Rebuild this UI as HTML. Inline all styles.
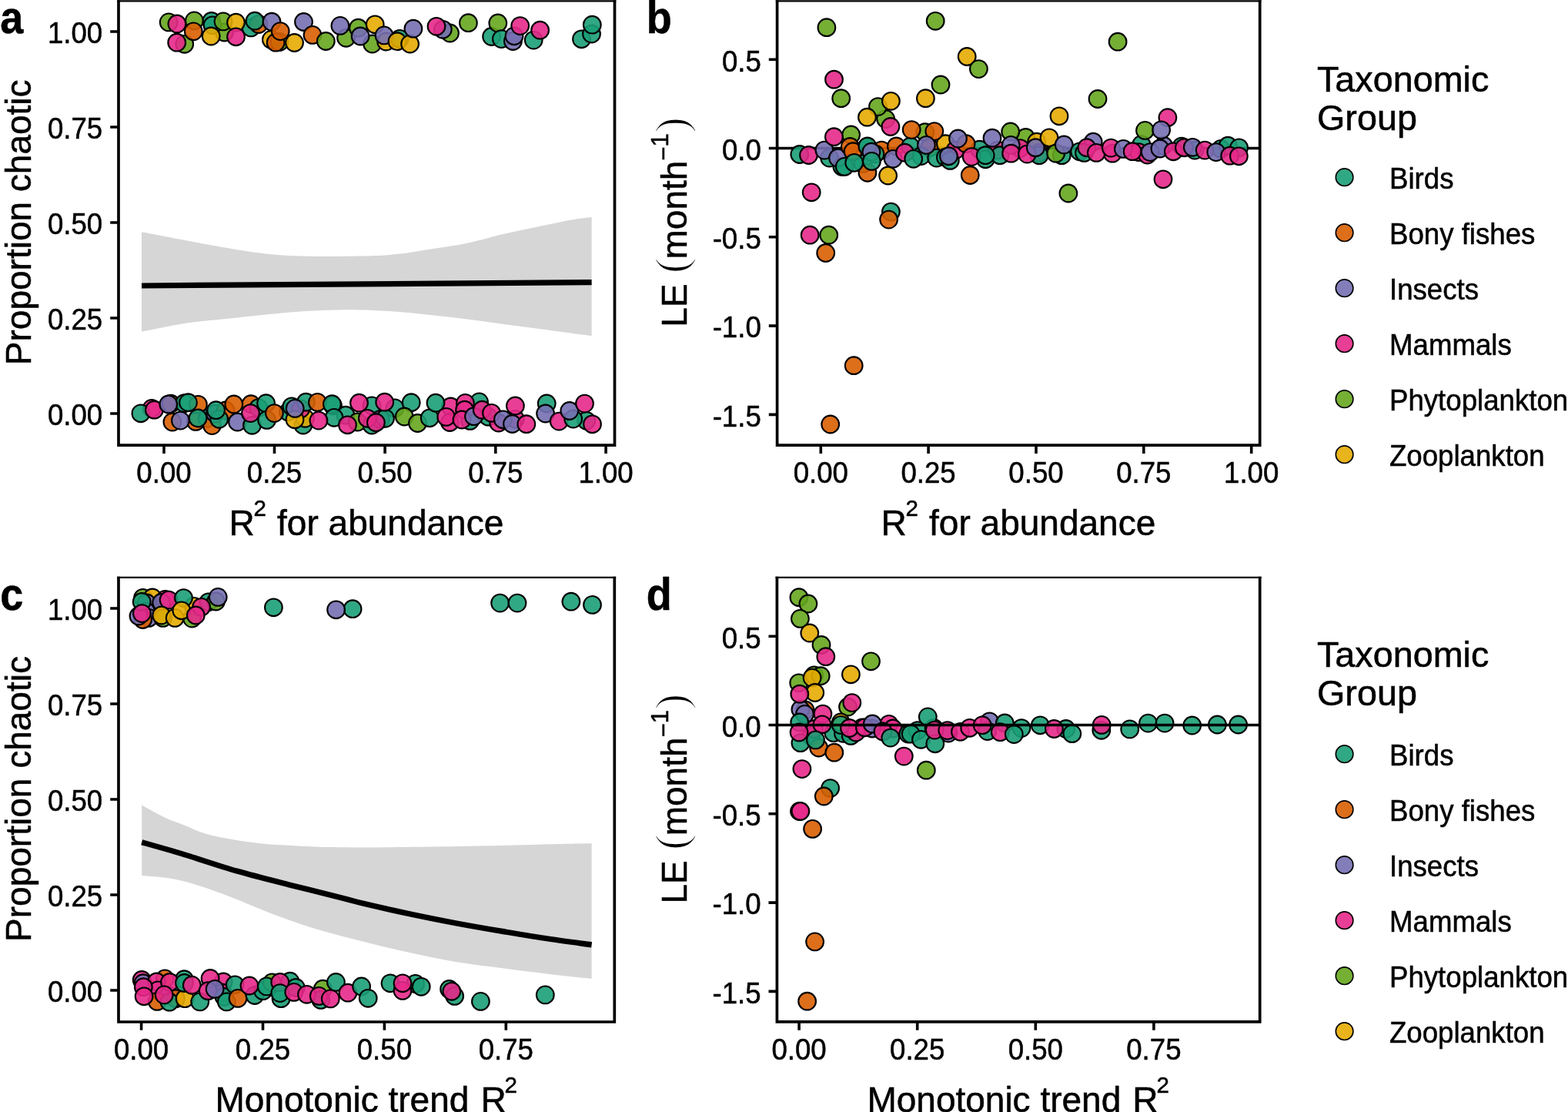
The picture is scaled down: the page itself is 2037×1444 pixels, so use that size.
<!DOCTYPE html>
<html><head><meta charset="utf-8"><style>
html,body{margin:0;padding:0;background:#fff;}
svg{display:block;}

</style></head><body>
<svg width="2037" height="1444" viewBox="0 0 2037 1444" font-family="'Liberation Sans', Arial, sans-serif">
<style>text{stroke:#000;stroke-width:0.55px;}</style>
<rect width="2037" height="1444" fill="#fff"/>
<path d="M184.0,301.2 C193.3,303.0 222.6,308.6 240.0,311.9 C257.4,315.2 271.2,318.1 288.7,321.0 C306.2,323.9 326.7,327.4 345.0,329.4 C363.3,331.3 377.5,332.2 398.3,332.7 C419.1,333.2 450.4,332.8 470.0,332.4 C489.6,332.0 500.5,331.6 515.7,330.1 C530.9,328.6 546.1,325.7 561.3,323.3 C576.5,320.9 591.8,318.9 607.0,315.7 C622.2,312.5 637.4,307.8 652.6,304.2 C667.8,300.6 683.1,297.6 698.3,294.4 C713.5,291.2 732.3,287.3 744.0,285.2 C755.7,283.1 764.5,282.5 768.6,282.0 L768.6,436.0 C764.5,435.5 755.7,434.4 744.0,432.9 C732.3,431.4 713.5,428.8 698.3,426.8 C683.1,424.8 667.8,422.7 652.6,420.7 C637.4,418.7 622.2,416.5 607.0,414.6 C591.8,412.7 576.5,411.0 561.3,409.3 C546.1,407.6 530.9,405.9 515.7,404.7 C500.5,403.5 483.2,402.8 470.0,402.4 C456.8,402.0 448.3,402.1 436.4,402.4 C424.4,402.6 412.3,403.0 398.3,403.9 C384.3,404.8 370.9,405.9 352.6,407.7 C334.3,409.5 307.5,412.6 288.7,414.6 C269.9,416.6 257.4,417.2 240.0,419.9 C222.6,422.6 193.3,428.8 184.0,430.6 Z" fill="#d6d6d6"/>
<path d="M184.0,371.0 L768.6,366.6" fill="none" stroke="#000" stroke-width="7.2"/>
<g stroke="#000" stroke-width="2.1">
<circle cx="219.2" cy="28.9" r="11.35" fill="#66A61E" fill-opacity="0.9"/>
<circle cx="239.7" cy="57.3" r="11.35" fill="#66A61E" fill-opacity="0.9"/>
<circle cx="274.7" cy="27.5" r="11.35" fill="#1B9E77" fill-opacity="0.9"/>
<circle cx="291.5" cy="42.0" r="11.35" fill="#66A61E" fill-opacity="0.9"/>
<circle cx="326.0" cy="35.9" r="11.35" fill="#1B9E77" fill-opacity="0.9"/>
<circle cx="336.0" cy="31.5" r="11.35" fill="#D95F02" fill-opacity="0.9"/>
<circle cx="352.4" cy="51.4" r="11.35" fill="#E6AB02" fill-opacity="0.9"/>
<circle cx="363.0" cy="54.5" r="11.35" fill="#66A61E" fill-opacity="0.9"/>
<circle cx="449.6" cy="49.3" r="11.35" fill="#66A61E" fill-opacity="0.9"/>
<circle cx="483.6" cy="57.0" r="11.35" fill="#66A61E" fill-opacity="0.9"/>
<circle cx="501.6" cy="54.0" r="11.35" fill="#E6AB02" fill-opacity="0.9"/>
<circle cx="519.2" cy="50.4" r="11.35" fill="#1B9E77" fill-opacity="0.9"/>
<circle cx="584.5" cy="43.0" r="11.35" fill="#66A61E" fill-opacity="0.9"/>
<circle cx="575.3" cy="38.3" r="11.35" fill="#7570B3" fill-opacity="0.9"/>
<circle cx="197.1" cy="530.4" r="11.35" fill="#E7298A" fill-opacity="0.9"/>
<circle cx="221.9" cy="524.2" r="11.35" fill="#D95F02" fill-opacity="0.9"/>
<circle cx="239.4" cy="523.7" r="11.35" fill="#1B9E77" fill-opacity="0.9"/>
<circle cx="257.4" cy="525.3" r="11.35" fill="#D95F02" fill-opacity="0.9"/>
<circle cx="223.9" cy="548.0" r="11.35" fill="#D95F02" fill-opacity="0.9"/>
<circle cx="254.3" cy="547.4" r="11.35" fill="#D95F02" fill-opacity="0.9"/>
<circle cx="269.3" cy="543.3" r="11.35" fill="#1B9E77" fill-opacity="0.9"/>
<circle cx="275.5" cy="552.6" r="11.35" fill="#D95F02" fill-opacity="0.9"/>
<circle cx="279.6" cy="537.1" r="11.35" fill="#7570B3" fill-opacity="0.9"/>
<circle cx="293.0" cy="533.0" r="11.35" fill="#D95F02" fill-opacity="0.9"/>
<circle cx="326.0" cy="524.7" r="11.35" fill="#D95F02" fill-opacity="0.9"/>
<circle cx="335.8" cy="529.6" r="11.35" fill="#1B9E77" fill-opacity="0.9"/>
<circle cx="374.4" cy="535.0" r="11.35" fill="#1B9E77" fill-opacity="0.9"/>
<circle cx="378.9" cy="527.8" r="11.35" fill="#1B9E77" fill-opacity="0.9"/>
<circle cx="393.8" cy="552.0" r="11.35" fill="#1B9E77" fill-opacity="0.9"/>
<circle cx="396.4" cy="543.3" r="11.35" fill="#E6AB02" fill-opacity="0.9"/>
<circle cx="390.7" cy="530.9" r="11.35" fill="#E7298A" fill-opacity="0.9"/>
<circle cx="397.4" cy="522.2" r="11.35" fill="#1B9E77" fill-opacity="0.9"/>
<circle cx="432.5" cy="526.8" r="11.35" fill="#1B9E77" fill-opacity="0.9"/>
<circle cx="449.0" cy="539.2" r="11.35" fill="#1B9E77" fill-opacity="0.9"/>
<circle cx="464.4" cy="548.0" r="11.35" fill="#66A61E" fill-opacity="0.9"/>
<circle cx="483.0" cy="526.8" r="11.35" fill="#1B9E77" fill-opacity="0.9"/>
<circle cx="483.0" cy="552.0" r="11.35" fill="#1B9E77" fill-opacity="0.9"/>
<circle cx="494.3" cy="544.3" r="11.35" fill="#7570B3" fill-opacity="0.9"/>
<circle cx="512.9" cy="529.9" r="11.35" fill="#1B9E77" fill-opacity="0.9"/>
<circle cx="585.4" cy="528.0" r="11.35" fill="#E7298A" fill-opacity="0.9"/>
<circle cx="584.3" cy="548.5" r="11.35" fill="#E7298A" fill-opacity="0.9"/>
<circle cx="622.5" cy="521.9" r="11.35" fill="#1B9E77" fill-opacity="0.9"/>
<circle cx="610.6" cy="546.4" r="11.35" fill="#1B9E77" fill-opacity="0.9"/>
<circle cx="634.3" cy="541.2" r="11.35" fill="#1B9E77" fill-opacity="0.9"/>
<circle cx="647.7" cy="549.0" r="11.35" fill="#E7298A" fill-opacity="0.9"/>
<circle cx="669.4" cy="544.3" r="11.35" fill="#E7298A" fill-opacity="0.9"/>
<circle cx="761.8" cy="546.3" r="11.35" fill="#1B9E77" fill-opacity="0.9"/>
<circle cx="229.9" cy="31.0" r="11.35" fill="#E7298A" fill-opacity="0.9"/>
<circle cx="229.7" cy="55.2" r="11.35" fill="#E7298A" fill-opacity="0.9"/>
<circle cx="252.4" cy="26.9" r="11.35" fill="#66A61E" fill-opacity="0.9"/>
<circle cx="251.3" cy="40.8" r="11.35" fill="#D95F02" fill-opacity="0.9"/>
<circle cx="276.0" cy="32.8" r="11.35" fill="#1B9E77" fill-opacity="0.9"/>
<circle cx="290.0" cy="27.9" r="11.35" fill="#66A61E" fill-opacity="0.9"/>
<circle cx="274.2" cy="47.0" r="11.35" fill="#E6AB02" fill-opacity="0.9"/>
<circle cx="306.5" cy="29.2" r="11.35" fill="#E6AB02" fill-opacity="0.9"/>
<circle cx="306.5" cy="47.8" r="11.35" fill="#E7298A" fill-opacity="0.9"/>
<circle cx="331.0" cy="27.2" r="11.35" fill="#1B9E77" fill-opacity="0.9"/>
<circle cx="353.0" cy="28.2" r="11.35" fill="#7570B3" fill-opacity="0.9"/>
<circle cx="358.2" cy="55.2" r="11.35" fill="#D95F02" fill-opacity="0.9"/>
<circle cx="364.2" cy="40.6" r="11.35" fill="#D95F02" fill-opacity="0.9"/>
<circle cx="382.5" cy="55.5" r="11.35" fill="#E6AB02" fill-opacity="0.9"/>
<circle cx="394.5" cy="28.5" r="11.35" fill="#7570B3" fill-opacity="0.9"/>
<circle cx="406.0" cy="45.4" r="11.35" fill="#D95F02" fill-opacity="0.9"/>
<circle cx="423.3" cy="53.5" r="11.35" fill="#66A61E" fill-opacity="0.9"/>
<circle cx="441.9" cy="33.4" r="11.35" fill="#7570B3" fill-opacity="0.9"/>
<circle cx="465.4" cy="36.2" r="11.35" fill="#66A61E" fill-opacity="0.9"/>
<circle cx="468.1" cy="47.0" r="11.35" fill="#7570B3" fill-opacity="0.9"/>
<circle cx="487.2" cy="31.8" r="11.35" fill="#E6AB02" fill-opacity="0.9"/>
<circle cx="499.0" cy="45.9" r="11.35" fill="#7570B3" fill-opacity="0.9"/>
<circle cx="516.0" cy="53.7" r="11.35" fill="#E6AB02" fill-opacity="0.9"/>
<circle cx="532.6" cy="57.0" r="11.35" fill="#E6AB02" fill-opacity="0.9"/>
<circle cx="536.9" cy="37.2" r="11.35" fill="#7570B3" fill-opacity="0.9"/>
<circle cx="567.0" cy="34.3" r="11.35" fill="#E7298A" fill-opacity="0.9"/>
<circle cx="608.4" cy="29.7" r="11.35" fill="#66A61E" fill-opacity="0.9"/>
<circle cx="638.6" cy="47.5" r="11.35" fill="#1B9E77" fill-opacity="0.9"/>
<circle cx="646.8" cy="30.0" r="11.35" fill="#66A61E" fill-opacity="0.9"/>
<circle cx="651.4" cy="50.6" r="11.35" fill="#1B9E77" fill-opacity="0.9"/>
<circle cx="666.4" cy="53.5" r="11.35" fill="#7570B3" fill-opacity="0.9"/>
<circle cx="668.0" cy="46.8" r="11.35" fill="#7570B3" fill-opacity="0.9"/>
<circle cx="675.7" cy="33.6" r="11.35" fill="#E7298A" fill-opacity="0.9"/>
<circle cx="693.2" cy="52.1" r="11.35" fill="#1B9E77" fill-opacity="0.9"/>
<circle cx="701.6" cy="39.2" r="11.35" fill="#E7298A" fill-opacity="0.9"/>
<circle cx="755.5" cy="50.8" r="11.35" fill="#1B9E77" fill-opacity="0.9"/>
<circle cx="768.5" cy="44.0" r="11.35" fill="#1B9E77" fill-opacity="0.9"/>
<circle cx="769.3" cy="32.2" r="11.35" fill="#1B9E77" fill-opacity="0.9"/>
<circle cx="182.9" cy="536.8" r="11.35" fill="#1B9E77" fill-opacity="0.9"/>
<circle cx="200.4" cy="532.2" r="11.35" fill="#E7298A" fill-opacity="0.9"/>
<circle cx="218.8" cy="525.0" r="11.35" fill="#7570B3" fill-opacity="0.9"/>
<circle cx="244.5" cy="522.7" r="11.35" fill="#1B9E77" fill-opacity="0.9"/>
<circle cx="234.4" cy="546.1" r="11.35" fill="#7570B3" fill-opacity="0.9"/>
<circle cx="257.1" cy="543.0" r="11.35" fill="#1B9E77" fill-opacity="0.9"/>
<circle cx="284.7" cy="544.3" r="11.35" fill="#1B9E77" fill-opacity="0.9"/>
<circle cx="280.6" cy="532.7" r="11.35" fill="#1B9E77" fill-opacity="0.9"/>
<circle cx="303.8" cy="525.0" r="11.35" fill="#D95F02" fill-opacity="0.9"/>
<circle cx="308.5" cy="548.0" r="11.35" fill="#7570B3" fill-opacity="0.9"/>
<circle cx="327.5" cy="552.3" r="11.35" fill="#1B9E77" fill-opacity="0.9"/>
<circle cx="325.5" cy="536.6" r="11.35" fill="#E7298A" fill-opacity="0.9"/>
<circle cx="345.6" cy="523.7" r="11.35" fill="#1B9E77" fill-opacity="0.9"/>
<circle cx="346.6" cy="545.4" r="11.35" fill="#1B9E77" fill-opacity="0.9"/>
<circle cx="356.4" cy="536.6" r="11.35" fill="#D95F02" fill-opacity="0.9"/>
<circle cx="383.0" cy="544.7" r="11.35" fill="#E6AB02" fill-opacity="0.9"/>
<circle cx="383.2" cy="530.4" r="11.35" fill="#7570B3" fill-opacity="0.9"/>
<circle cx="412.4" cy="522.4" r="11.35" fill="#D95F02" fill-opacity="0.9"/>
<circle cx="431.4" cy="524.7" r="11.35" fill="#1B9E77" fill-opacity="0.9"/>
<circle cx="434.0" cy="542.3" r="11.35" fill="#1B9E77" fill-opacity="0.9"/>
<circle cx="413.9" cy="546.1" r="11.35" fill="#E7298A" fill-opacity="0.9"/>
<circle cx="451.5" cy="551.8" r="11.35" fill="#E7298A" fill-opacity="0.9"/>
<circle cx="466.5" cy="523.2" r="11.35" fill="#E7298A" fill-opacity="0.9"/>
<circle cx="477.3" cy="543.3" r="11.35" fill="#E7298A" fill-opacity="0.9"/>
<circle cx="500.5" cy="543.3" r="11.35" fill="#1B9E77" fill-opacity="0.9"/>
<circle cx="488.4" cy="548.7" r="11.35" fill="#E7298A" fill-opacity="0.9"/>
<circle cx="499.7" cy="522.2" r="11.35" fill="#E7298A" fill-opacity="0.9"/>
<circle cx="534.2" cy="522.7" r="11.35" fill="#1B9E77" fill-opacity="0.9"/>
<circle cx="525.3" cy="541.0" r="11.35" fill="#66A61E" fill-opacity="0.9"/>
<circle cx="542.5" cy="549.5" r="11.35" fill="#66A61E" fill-opacity="0.9"/>
<circle cx="558.2" cy="542.8" r="11.35" fill="#1B9E77" fill-opacity="0.9"/>
<circle cx="566.0" cy="523.2" r="11.35" fill="#1B9E77" fill-opacity="0.9"/>
<circle cx="579.7" cy="541.4" r="11.35" fill="#E7298A" fill-opacity="0.9"/>
<circle cx="604.4" cy="523.4" r="11.35" fill="#E7298A" fill-opacity="0.9"/>
<circle cx="603.6" cy="532.2" r="11.35" fill="#E7298A" fill-opacity="0.9"/>
<circle cx="600.0" cy="545.0" r="11.35" fill="#E7298A" fill-opacity="0.9"/>
<circle cx="615.5" cy="540.7" r="11.35" fill="#7570B3" fill-opacity="0.9"/>
<circle cx="626.3" cy="532.2" r="11.35" fill="#E7298A" fill-opacity="0.9"/>
<circle cx="638.5" cy="536.3" r="11.35" fill="#E7298A" fill-opacity="0.9"/>
<circle cx="653.4" cy="544.8" r="11.35" fill="#7570B3" fill-opacity="0.9"/>
<circle cx="669.4" cy="527.0" r="11.35" fill="#E7298A" fill-opacity="0.9"/>
<circle cx="665.5" cy="550.5" r="11.35" fill="#7570B3" fill-opacity="0.9"/>
<circle cx="683.8" cy="550.7" r="11.35" fill="#E7298A" fill-opacity="0.9"/>
<circle cx="710.2" cy="524.0" r="11.35" fill="#1B9E77" fill-opacity="0.9"/>
<circle cx="708.6" cy="537.0" r="11.35" fill="#7570B3" fill-opacity="0.9"/>
<circle cx="726.2" cy="547.1" r="11.35" fill="#E7298A" fill-opacity="0.9"/>
<circle cx="744.7" cy="544.0" r="11.35" fill="#1B9E77" fill-opacity="0.9"/>
<circle cx="739.8" cy="533.5" r="11.35" fill="#7570B3" fill-opacity="0.9"/>
<circle cx="759.5" cy="524.1" r="11.35" fill="#E7298A" fill-opacity="0.9"/>
<circle cx="769.5" cy="550.8" r="11.35" fill="#E7298A" fill-opacity="0.9"/>
</g>
<path d="M152.15,1.3 H800.35" stroke="#000" stroke-width="2.2" fill="none"/>
<path d="M154.0,0.20 V578.2 M152.15,578.2 H800.35 M798.5,578.2 V0.20" stroke="#000" stroke-width="3.7" fill="none" stroke-linecap="butt"/>
<path d="M213.0,578.2 V589.1 M356.5,578.2 V589.1 M500.1,578.2 V589.1 M643.8,578.2 V589.1 M787.1,578.2 V589.1 M154.0,537 H143.2 M154.0,413 H143.2 M154.0,289 H143.2 M154.0,165 H143.2 M154.0,41 H143.2" stroke="#000" stroke-width="3.6" fill="none"/>
<text transform="translate(213.0,627.2) scale(0.93,1)" font-size="39.4" text-anchor="middle">0.00</text>
<text transform="translate(356.5,627.2) scale(0.93,1)" font-size="39.4" text-anchor="middle">0.25</text>
<text transform="translate(500.1,627.2) scale(0.93,1)" font-size="39.4" text-anchor="middle">0.50</text>
<text transform="translate(643.8,627.2) scale(0.93,1)" font-size="39.4" text-anchor="middle">0.75</text>
<text transform="translate(787.1,627.2) scale(0.93,1)" font-size="39.4" text-anchor="middle">1.00</text>
<text transform="translate(133.2,552.2) scale(0.93,1)" font-size="39.4" text-anchor="end">0.00</text>
<text transform="translate(133.2,428.2) scale(0.93,1)" font-size="39.4" text-anchor="end">0.25</text>
<text transform="translate(133.2,304.2) scale(0.93,1)" font-size="39.4" text-anchor="end">0.50</text>
<text transform="translate(133.2,180.2) scale(0.93,1)" font-size="39.4" text-anchor="end">0.75</text>
<text transform="translate(133.2,56.2) scale(0.93,1)" font-size="39.4" text-anchor="end">1.00</text>
<text font-size="46" y="695.0"><tspan x="297.6">R</tspan><tspan x="329.5" y="669.8" font-size="29.5">2</tspan><tspan x="360.1" y="695.0">for abundance</tspan></text>
<text transform="translate(39.8,288.8) rotate(-90)" font-size="46" text-anchor="middle">Proportion chaotic</text>
<text transform="translate(0.3,43.4) scale(0.9,1)" font-size="60" font-weight="bold">a</text>
<line x1="1009.6" y1="192.5" x2="1636.7" y2="192.5" stroke="#000" stroke-width="3.7"/>
<g stroke="#000" stroke-width="2.1">
<circle cx="1150.6" cy="154.6" r="11.35" fill="#66A61E" fill-opacity="0.9"/>
<circle cx="1077.6" cy="205.1" r="11.35" fill="#1B9E77" fill-opacity="0.9"/>
<circle cx="1093.9" cy="216.4" r="11.35" fill="#1B9E77" fill-opacity="0.9"/>
<circle cx="1126.0" cy="190.9" r="11.35" fill="#1B9E77" fill-opacity="0.9"/>
<circle cx="1121.0" cy="212.6" r="11.35" fill="#1B9E77" fill-opacity="0.9"/>
<circle cx="1145.2" cy="195.1" r="11.35" fill="#D95F02" fill-opacity="0.9"/>
<circle cx="1136.9" cy="200.0" r="11.35" fill="#1B9E77" fill-opacity="0.9"/>
<circle cx="1164.4" cy="190.0" r="11.35" fill="#D95F02" fill-opacity="0.9"/>
<circle cx="1182.8" cy="190.0" r="11.35" fill="#1B9E77" fill-opacity="0.9"/>
<circle cx="1201.7" cy="171.7" r="11.35" fill="#66A61E" fill-opacity="0.9"/>
<circle cx="1207.6" cy="191.7" r="11.35" fill="#D95F02" fill-opacity="0.9"/>
<circle cx="1196.7" cy="202.6" r="11.35" fill="#1B9E77" fill-opacity="0.9"/>
<circle cx="1216.7" cy="205.1" r="11.35" fill="#1B9E77" fill-opacity="0.9"/>
<circle cx="1228.4" cy="186.7" r="11.35" fill="#E6AB02" fill-opacity="0.9"/>
<circle cx="1241.0" cy="195.1" r="11.35" fill="#E7298A" fill-opacity="0.9"/>
<circle cx="1228.4" cy="204.2" r="11.35" fill="#1B9E77" fill-opacity="0.9"/>
<circle cx="1272.7" cy="194.2" r="11.35" fill="#1B9E77" fill-opacity="0.9"/>
<circle cx="1280.2" cy="206.8" r="11.35" fill="#1B9E77" fill-opacity="0.9"/>
<circle cx="1296.0" cy="195.1" r="11.35" fill="#E7298A" fill-opacity="0.9"/>
<circle cx="1299.0" cy="201.7" r="11.35" fill="#1B9E77" fill-opacity="0.9"/>
<circle cx="1332.5" cy="178.5" r="11.35" fill="#66A61E" fill-opacity="0.9"/>
<circle cx="1325.3" cy="192.6" r="11.35" fill="#E7298A" fill-opacity="0.9"/>
<circle cx="1346.7" cy="184.2" r="11.35" fill="#E6AB02" fill-opacity="0.9"/>
<circle cx="1350.0" cy="198.4" r="11.35" fill="#E7298A" fill-opacity="0.9"/>
<circle cx="1350.0" cy="201.7" r="11.35" fill="#1B9E77" fill-opacity="0.9"/>
<circle cx="1379.3" cy="201.7" r="11.35" fill="#1B9E77" fill-opacity="0.9"/>
<circle cx="1420.2" cy="184.2" r="11.35" fill="#7570B3" fill-opacity="0.9"/>
<circle cx="1445.2" cy="199.2" r="11.35" fill="#E7298A" fill-opacity="0.9"/>
<circle cx="1482.8" cy="187.6" r="11.35" fill="#1B9E77" fill-opacity="0.9"/>
<circle cx="1479.2" cy="197.6" r="11.35" fill="#E7298A" fill-opacity="0.9"/>
<circle cx="1490.5" cy="201.0" r="11.35" fill="#E7298A" fill-opacity="0.9"/>
<circle cx="1511.7" cy="189.2" r="11.35" fill="#7570B3" fill-opacity="0.9"/>
<circle cx="1535.1" cy="190.1" r="11.35" fill="#1B9E77" fill-opacity="0.9"/>
<circle cx="1552.2" cy="195.1" r="11.35" fill="#1B9E77" fill-opacity="0.9"/>
<circle cx="1586.0" cy="193.4" r="11.35" fill="#1B9E77" fill-opacity="0.9"/>
<circle cx="1595.2" cy="189.2" r="11.35" fill="#1B9E77" fill-opacity="0.9"/>
<circle cx="1073.9" cy="35.7" r="11.35" fill="#66A61E" fill-opacity="0.9"/>
<circle cx="1215.2" cy="27.3" r="11.35" fill="#66A61E" fill-opacity="0.9"/>
<circle cx="1256.2" cy="73.5" r="11.35" fill="#E6AB02" fill-opacity="0.9"/>
<circle cx="1271.4" cy="89.6" r="11.35" fill="#66A61E" fill-opacity="0.9"/>
<circle cx="1083.5" cy="103.2" r="11.35" fill="#E7298A" fill-opacity="0.9"/>
<circle cx="1222.0" cy="110.0" r="11.35" fill="#66A61E" fill-opacity="0.9"/>
<circle cx="1092.7" cy="127.7" r="11.35" fill="#66A61E" fill-opacity="0.9"/>
<circle cx="1202.4" cy="127.7" r="11.35" fill="#E6AB02" fill-opacity="0.9"/>
<circle cx="1140.5" cy="138.6" r="11.35" fill="#66A61E" fill-opacity="0.9"/>
<circle cx="1157.4" cy="131.3" r="11.35" fill="#E6AB02" fill-opacity="0.9"/>
<circle cx="1126.5" cy="152.2" r="11.35" fill="#E6AB02" fill-opacity="0.9"/>
<circle cx="1156.9" cy="164.5" r="11.35" fill="#E7298A" fill-opacity="0.9"/>
<circle cx="1054.2" cy="249.8" r="11.35" fill="#E7298A" fill-opacity="0.9"/>
<circle cx="1157.4" cy="275.1" r="11.35" fill="#1B9E77" fill-opacity="0.9"/>
<circle cx="1154.6" cy="285.1" r="11.35" fill="#D95F02" fill-opacity="0.9"/>
<circle cx="1052.2" cy="305.2" r="11.35" fill="#E7298A" fill-opacity="0.9"/>
<circle cx="1076.7" cy="305.2" r="11.35" fill="#66A61E" fill-opacity="0.9"/>
<circle cx="1072.7" cy="328.5" r="11.35" fill="#D95F02" fill-opacity="0.9"/>
<circle cx="1109.2" cy="474.7" r="11.35" fill="#D95F02" fill-opacity="0.9"/>
<circle cx="1078.7" cy="551.0" r="11.35" fill="#D95F02" fill-opacity="0.9"/>
<circle cx="1452.1" cy="54.2" r="11.35" fill="#66A61E" fill-opacity="0.9"/>
<circle cx="1426.0" cy="128.5" r="11.35" fill="#66A61E" fill-opacity="0.9"/>
<circle cx="1376.0" cy="150.8" r="11.35" fill="#E6AB02" fill-opacity="0.9"/>
<circle cx="1387.9" cy="251.0" r="11.35" fill="#66A61E" fill-opacity="0.9"/>
<circle cx="1516.9" cy="152.7" r="11.35" fill="#E7298A" fill-opacity="0.9"/>
<circle cx="1511.0" cy="232.8" r="11.35" fill="#E7298A" fill-opacity="0.9"/>
<circle cx="1126.9" cy="224.3" r="11.35" fill="#D95F02" fill-opacity="0.9"/>
<circle cx="1038.8" cy="200.5" r="11.35" fill="#1B9E77" fill-opacity="0.9"/>
<circle cx="1050.5" cy="201.5" r="11.35" fill="#E7298A" fill-opacity="0.9"/>
<circle cx="1070.9" cy="195.1" r="11.35" fill="#7570B3" fill-opacity="0.9"/>
<circle cx="1105.6" cy="175.0" r="11.35" fill="#66A61E" fill-opacity="0.9"/>
<circle cx="1083.4" cy="177.7" r="11.35" fill="#E7298A" fill-opacity="0.9"/>
<circle cx="1088.5" cy="205.1" r="11.35" fill="#7570B3" fill-opacity="0.9"/>
<circle cx="1097.2" cy="216.4" r="11.35" fill="#1B9E77" fill-opacity="0.9"/>
<circle cx="1104.3" cy="190.5" r="11.35" fill="#D95F02" fill-opacity="0.9"/>
<circle cx="1108.1" cy="196.7" r="11.35" fill="#D95F02" fill-opacity="0.9"/>
<circle cx="1109.7" cy="211.3" r="11.35" fill="#1B9E77" fill-opacity="0.9"/>
<circle cx="1126.9" cy="190.0" r="11.35" fill="#1B9E77" fill-opacity="0.9"/>
<circle cx="1131.9" cy="197.2" r="11.35" fill="#7570B3" fill-opacity="0.9"/>
<circle cx="1132.4" cy="209.4" r="11.35" fill="#1B9E77" fill-opacity="0.9"/>
<circle cx="1153.6" cy="228.0" r="11.35" fill="#E6AB02" fill-opacity="0.9"/>
<circle cx="1160.2" cy="206.3" r="11.35" fill="#7570B3" fill-opacity="0.9"/>
<circle cx="1184.2" cy="168.6" r="11.35" fill="#D95F02" fill-opacity="0.9"/>
<circle cx="1175.5" cy="198.2" r="11.35" fill="#E7298A" fill-opacity="0.9"/>
<circle cx="1213.8" cy="170.6" r="11.35" fill="#D95F02" fill-opacity="0.9"/>
<circle cx="1203.4" cy="188.4" r="11.35" fill="#7570B3" fill-opacity="0.9"/>
<circle cx="1186.7" cy="206.3" r="11.35" fill="#1B9E77" fill-opacity="0.9"/>
<circle cx="1255.1" cy="186.7" r="11.35" fill="#D95F02" fill-opacity="0.9"/>
<circle cx="1244.5" cy="180.0" r="11.35" fill="#7570B3" fill-opacity="0.9"/>
<circle cx="1234.3" cy="208.4" r="11.35" fill="#1B9E77" fill-opacity="0.9"/>
<circle cx="1232.4" cy="202.7" r="11.35" fill="#7570B3" fill-opacity="0.9"/>
<circle cx="1262.2" cy="203.6" r="11.35" fill="#E7298A" fill-opacity="0.9"/>
<circle cx="1260.3" cy="227.5" r="11.35" fill="#D95F02" fill-opacity="0.9"/>
<circle cx="1280.2" cy="201.7" r="11.35" fill="#1B9E77" fill-opacity="0.9"/>
<circle cx="1289.0" cy="179.2" r="11.35" fill="#7570B3" fill-opacity="0.9"/>
<circle cx="1312.7" cy="171.0" r="11.35" fill="#66A61E" fill-opacity="0.9"/>
<circle cx="1313.2" cy="188.4" r="11.35" fill="#7570B3" fill-opacity="0.9"/>
<circle cx="1313.6" cy="199.2" r="11.35" fill="#E7298A" fill-opacity="0.9"/>
<circle cx="1334.4" cy="200.1" r="11.35" fill="#E7298A" fill-opacity="0.9"/>
<circle cx="1345.3" cy="191.7" r="11.35" fill="#7570B3" fill-opacity="0.9"/>
<circle cx="1363.0" cy="178.8" r="11.35" fill="#E6AB02" fill-opacity="0.9"/>
<circle cx="1371.7" cy="199.2" r="11.35" fill="#66A61E" fill-opacity="0.9"/>
<circle cx="1382.2" cy="188.0" r="11.35" fill="#7570B3" fill-opacity="0.9"/>
<circle cx="1402.6" cy="196.8" r="11.35" fill="#1B9E77" fill-opacity="0.9"/>
<circle cx="1408.5" cy="198.4" r="11.35" fill="#1B9E77" fill-opacity="0.9"/>
<circle cx="1411.8" cy="191.7" r="11.35" fill="#E7298A" fill-opacity="0.9"/>
<circle cx="1424.3" cy="198.4" r="11.35" fill="#E7298A" fill-opacity="0.9"/>
<circle cx="1443.3" cy="192.1" r="11.35" fill="#E7298A" fill-opacity="0.9"/>
<circle cx="1459.4" cy="193.4" r="11.35" fill="#7570B3" fill-opacity="0.9"/>
<circle cx="1471.1" cy="196.7" r="11.35" fill="#E7298A" fill-opacity="0.9"/>
<circle cx="1487.5" cy="169.4" r="11.35" fill="#66A61E" fill-opacity="0.9"/>
<circle cx="1508.6" cy="168.8" r="11.35" fill="#7570B3" fill-opacity="0.9"/>
<circle cx="1494.2" cy="197.6" r="11.35" fill="#7570B3" fill-opacity="0.9"/>
<circle cx="1506.9" cy="193.0" r="11.35" fill="#7570B3" fill-opacity="0.9"/>
<circle cx="1524.3" cy="196.8" r="11.35" fill="#E7298A" fill-opacity="0.9"/>
<circle cx="1538.4" cy="191.8" r="11.35" fill="#E7298A" fill-opacity="0.9"/>
<circle cx="1549.3" cy="191.3" r="11.35" fill="#7570B3" fill-opacity="0.9"/>
<circle cx="1565.2" cy="195.1" r="11.35" fill="#E7298A" fill-opacity="0.9"/>
<circle cx="1579.8" cy="197.6" r="11.35" fill="#7570B3" fill-opacity="0.9"/>
<circle cx="1609.6" cy="191.8" r="11.35" fill="#1B9E77" fill-opacity="0.9"/>
<circle cx="1597.7" cy="202.2" r="11.35" fill="#E7298A" fill-opacity="0.9"/>
<circle cx="1609.4" cy="202.8" r="11.35" fill="#E7298A" fill-opacity="0.9"/>
</g>
<path d="M1007.75,1.3 H1638.55" stroke="#000" stroke-width="2.2" fill="none"/>
<path d="M1009.6,0.20 V578.1 M1007.75,578.1 H1638.55 M1636.7,578.1 V0.20" stroke="#000" stroke-width="3.7" fill="none" stroke-linecap="butt"/>
<path d="M1066.3,578.1 V589.0 M1206.1,578.1 V589.0 M1346.0,578.1 V589.0 M1485.8,578.1 V589.0 M1625.7,578.1 V589.0 M1009.6,77.3 H998.8 M1009.6,192.5 H998.8 M1009.6,307.8 H998.8 M1009.6,423.1 H998.8 M1009.6,538.4 H998.8" stroke="#000" stroke-width="3.6" fill="none"/>
<text transform="translate(1066.3,627.1) scale(0.93,1)" font-size="39.4" text-anchor="middle">0.00</text>
<text transform="translate(1206.1,627.1) scale(0.93,1)" font-size="39.4" text-anchor="middle">0.25</text>
<text transform="translate(1346.0,627.1) scale(0.93,1)" font-size="39.4" text-anchor="middle">0.50</text>
<text transform="translate(1485.8,627.1) scale(0.93,1)" font-size="39.4" text-anchor="middle">0.75</text>
<text transform="translate(1625.7,627.1) scale(0.93,1)" font-size="39.4" text-anchor="middle">1.00</text>
<text transform="translate(988.8,92.5) scale(0.93,1)" font-size="39.4" text-anchor="end">0.5</text>
<text transform="translate(988.8,207.7) scale(0.93,1)" font-size="39.4" text-anchor="end">0.0</text>
<text transform="translate(988.8,323.0) scale(0.93,1)" font-size="39.4" text-anchor="end">-0.5</text>
<text transform="translate(988.8,438.3) scale(0.93,1)" font-size="39.4" text-anchor="end">-1.0</text>
<text transform="translate(988.8,553.6) scale(0.93,1)" font-size="39.4" text-anchor="end">-1.5</text>
<text font-size="46" y="694.9"><tspan x="1144.6">R</tspan><tspan x="1176.5" y="669.7" font-size="29.5">2</tspan><tspan x="1207.1" y="694.9">for abundance</tspan></text>
<g transform="translate(892.3,0.2) rotate(-90)">
<text x="-424.5" y="0" font-size="46">LE</text>
<text transform="translate(-355.0,0) scale(1.05,1)" font-size="60" y="0" font-family="Liberation Serif, serif" style="stroke:#fff;stroke-width:1.6px">(</text>
<text x="-336.3" y="0" font-size="46">month</text>
<text x="-208.5" y="-20.5" font-size="31">&#8722;</text>
<text x="-190.3" y="-24" font-size="31">1</text>
<text transform="translate(-172.5,0) scale(1.05,1)" font-size="60" y="0" font-family="Liberation Serif, serif" style="stroke:#fff;stroke-width:1.6px">)</text>
</g>
<text transform="translate(839.8,43.4) scale(0.9,1)" font-size="60" font-weight="bold">b</text>
<path d="M184.2,1045.6 C189.0,1048.2 204.1,1056.9 213.3,1061.2 C222.5,1065.5 230.5,1068.0 239.2,1071.5 C247.8,1075.0 255.1,1078.9 265.2,1081.9 C275.3,1084.9 286.8,1087.4 299.8,1089.7 C312.8,1092.0 328.7,1094.3 343.1,1095.8 C357.5,1097.2 372.0,1097.7 386.4,1098.4 C400.8,1099.1 415.8,1099.8 429.7,1100.1 C443.6,1100.4 450.6,1100.5 470.0,1100.5 C489.4,1100.5 520.7,1100.1 546.1,1099.8 C571.5,1099.5 596.8,1099.1 622.2,1098.6 C647.6,1098.1 673.9,1097.3 698.3,1096.7 C722.7,1096.1 756.9,1095.5 768.6,1095.2 L768.6,1271.0 C759.4,1270.0 732.8,1267.2 713.5,1264.9 C694.2,1262.6 672.9,1260.0 652.6,1257.3 C632.3,1254.6 612.1,1252.4 591.8,1249.0 C571.5,1245.6 551.2,1241.2 530.9,1236.8 C510.6,1232.3 486.9,1226.5 470.0,1222.3 C453.1,1218.1 442.2,1215.3 429.7,1211.8 C417.2,1208.3 406.6,1205.2 395.0,1201.4 C383.4,1197.7 371.9,1193.6 360.4,1189.3 C348.9,1185.0 337.3,1180.0 325.8,1175.4 C314.3,1170.8 302.7,1165.9 291.2,1161.6 C279.7,1157.3 268.2,1152.9 256.6,1149.4 C245.1,1145.9 234.0,1142.9 221.9,1140.8 C209.8,1138.7 190.5,1137.6 184.2,1137.0 Z" fill="#d6d6d6"/>
<path d="M184.2,1093.7 C193.4,1096.3 218.5,1103.3 239.2,1109.6 C259.9,1115.9 285.4,1124.7 308.5,1131.3 C331.6,1137.9 354.6,1143.5 377.7,1149.4 C400.8,1155.3 431.6,1162.8 447.0,1166.7 C462.4,1170.6 456.0,1169.5 470.0,1172.8 C484.0,1176.1 510.6,1182.2 530.9,1186.5 C551.2,1190.8 571.5,1194.9 591.8,1198.7 C612.1,1202.5 632.3,1206.0 652.6,1209.4 C672.9,1212.8 694.2,1216.4 713.5,1219.3 C732.8,1222.2 759.4,1225.6 768.6,1226.9" fill="none" stroke="#000" stroke-width="7.2"/>
<g stroke="#000" stroke-width="2.1">
<circle cx="185.6" cy="776.3" r="11.35" fill="#66A61E" fill-opacity="0.9"/>
<circle cx="198.0" cy="776.0" r="11.35" fill="#E6AB02" fill-opacity="0.9"/>
<circle cx="190.5" cy="783.0" r="11.35" fill="#7570B3" fill-opacity="0.9"/>
<circle cx="189.7" cy="794.0" r="11.35" fill="#7570B3" fill-opacity="0.9"/>
<circle cx="193.2" cy="802.4" r="11.35" fill="#7570B3" fill-opacity="0.9"/>
<circle cx="185.6" cy="804.5" r="11.35" fill="#D95F02" fill-opacity="0.9"/>
<circle cx="180.0" cy="800.0" r="11.35" fill="#7570B3" fill-opacity="0.9"/>
<circle cx="214.5" cy="778.4" r="11.35" fill="#E7298A" fill-opacity="0.9"/>
<circle cx="209.7" cy="782.5" r="11.35" fill="#7570B3" fill-opacity="0.9"/>
<circle cx="211.7" cy="802.4" r="11.35" fill="#66A61E" fill-opacity="0.9"/>
<circle cx="251.6" cy="787.3" r="11.35" fill="#E6AB02" fill-opacity="0.9"/>
<circle cx="249.5" cy="803.1" r="11.35" fill="#66A61E" fill-opacity="0.9"/>
<circle cx="270.8" cy="781.8" r="11.35" fill="#1B9E77" fill-opacity="0.9"/>
<circle cx="280.5" cy="781.0" r="11.35" fill="#66A61E" fill-opacity="0.9"/>
<circle cx="184.2" cy="1272.5" r="11.35" fill="#E7298A" fill-opacity="0.9"/>
<circle cx="185.9" cy="1276.7" r="11.35" fill="#7570B3" fill-opacity="0.9"/>
<circle cx="214.2" cy="1270.9" r="11.35" fill="#D95F02" fill-opacity="0.9"/>
<circle cx="203.4" cy="1275.0" r="11.35" fill="#E7298A" fill-opacity="0.9"/>
<circle cx="205.1" cy="1285.9" r="11.35" fill="#E7298A" fill-opacity="0.9"/>
<circle cx="219.3" cy="1292.6" r="11.35" fill="#7570B3" fill-opacity="0.9"/>
<circle cx="228.4" cy="1296.7" r="11.35" fill="#D95F02" fill-opacity="0.9"/>
<circle cx="204.2" cy="1300.4" r="11.35" fill="#D95F02" fill-opacity="0.9"/>
<circle cx="220.1" cy="1301.2" r="11.35" fill="#1B9E77" fill-opacity="0.9"/>
<circle cx="239.3" cy="1271.7" r="11.35" fill="#1B9E77" fill-opacity="0.9"/>
<circle cx="240.1" cy="1296.7" r="11.35" fill="#E6AB02" fill-opacity="0.9"/>
<circle cx="290.2" cy="1275.0" r="11.35" fill="#E7298A" fill-opacity="0.9"/>
<circle cx="289.4" cy="1289.2" r="11.35" fill="#E7298A" fill-opacity="0.9"/>
<circle cx="291.0" cy="1294.5" r="11.35" fill="#1B9E77" fill-opacity="0.9"/>
<circle cx="294.4" cy="1300.9" r="11.35" fill="#1B9E77" fill-opacity="0.9"/>
<circle cx="330.9" cy="1292.5" r="11.35" fill="#1B9E77" fill-opacity="0.9"/>
<circle cx="341.7" cy="1286.7" r="11.35" fill="#1B9E77" fill-opacity="0.9"/>
<circle cx="353.4" cy="1275.9" r="11.35" fill="#66A61E" fill-opacity="0.9"/>
<circle cx="376.8" cy="1274.2" r="11.35" fill="#1B9E77" fill-opacity="0.9"/>
<circle cx="384.3" cy="1282.5" r="11.35" fill="#1B9E77" fill-opacity="0.9"/>
<circle cx="419.3" cy="1284.2" r="11.35" fill="#66A61E" fill-opacity="0.9"/>
<circle cx="416.8" cy="1298.4" r="11.35" fill="#1B9E77" fill-opacity="0.9"/>
<circle cx="365.1" cy="1296.7" r="11.35" fill="#1B9E77" fill-opacity="0.9"/>
<circle cx="539.6" cy="1277.4" r="11.35" fill="#1B9E77" fill-opacity="0.9"/>
<circle cx="583.6" cy="1284.5" r="11.35" fill="#1B9E77" fill-opacity="0.9"/>
<circle cx="590.6" cy="1293.4" r="11.35" fill="#1B9E77" fill-opacity="0.9"/>
<circle cx="184.2" cy="781.5" r="11.35" fill="#1B9E77" fill-opacity="0.9"/>
<circle cx="184.4" cy="796.6" r="11.35" fill="#E7298A" fill-opacity="0.9"/>
<circle cx="219.1" cy="779.1" r="11.35" fill="#E7298A" fill-opacity="0.9"/>
<circle cx="209.7" cy="799.0" r="11.35" fill="#E6AB02" fill-opacity="0.9"/>
<circle cx="227.2" cy="802.4" r="11.35" fill="#E6AB02" fill-opacity="0.9"/>
<circle cx="238.5" cy="776.6" r="11.35" fill="#1B9E77" fill-opacity="0.9"/>
<circle cx="235.8" cy="792.8" r="11.35" fill="#E6AB02" fill-opacity="0.9"/>
<circle cx="261.6" cy="788.3" r="11.35" fill="#E7298A" fill-opacity="0.9"/>
<circle cx="254.3" cy="799.0" r="11.35" fill="#E7298A" fill-opacity="0.9"/>
<circle cx="283.2" cy="775.4" r="11.35" fill="#7570B3" fill-opacity="0.9"/>
<circle cx="355.4" cy="788.8" r="11.35" fill="#1B9E77" fill-opacity="0.9"/>
<circle cx="458.1" cy="790.7" r="11.35" fill="#1B9E77" fill-opacity="0.9"/>
<circle cx="436.6" cy="791.8" r="11.35" fill="#7570B3" fill-opacity="0.9"/>
<circle cx="649.6" cy="783.1" r="11.35" fill="#1B9E77" fill-opacity="0.9"/>
<circle cx="672.0" cy="783.1" r="11.35" fill="#1B9E77" fill-opacity="0.9"/>
<circle cx="741.9" cy="781.2" r="11.35" fill="#1B9E77" fill-opacity="0.9"/>
<circle cx="769.5" cy="785.4" r="11.35" fill="#1B9E77" fill-opacity="0.9"/>
<circle cx="186.3" cy="1281.7" r="11.35" fill="#E7298A" fill-opacity="0.9"/>
<circle cx="187.1" cy="1293.8" r="11.35" fill="#E7298A" fill-opacity="0.9"/>
<circle cx="220.5" cy="1275.5" r="11.35" fill="#E7298A" fill-opacity="0.9"/>
<circle cx="213.2" cy="1291.9" r="11.35" fill="#E7298A" fill-opacity="0.9"/>
<circle cx="239.5" cy="1276.5" r="11.35" fill="#1B9E77" fill-opacity="0.9"/>
<circle cx="249.3" cy="1279.2" r="11.35" fill="#E7298A" fill-opacity="0.9"/>
<circle cx="259.7" cy="1300.9" r="11.35" fill="#1B9E77" fill-opacity="0.9"/>
<circle cx="273.1" cy="1270.5" r="11.35" fill="#E7298A" fill-opacity="0.9"/>
<circle cx="270.2" cy="1286.7" r="11.35" fill="#E7298A" fill-opacity="0.9"/>
<circle cx="279.1" cy="1284.4" r="11.35" fill="#7570B3" fill-opacity="0.9"/>
<circle cx="305.2" cy="1278.8" r="11.35" fill="#1B9E77" fill-opacity="0.9"/>
<circle cx="309.0" cy="1296.4" r="11.35" fill="#D95F02" fill-opacity="0.9"/>
<circle cx="324.0" cy="1280.0" r="11.35" fill="#E7298A" fill-opacity="0.9"/>
<circle cx="346.3" cy="1280.9" r="11.35" fill="#1B9E77" fill-opacity="0.9"/>
<circle cx="363.8" cy="1275.5" r="11.35" fill="#E7298A" fill-opacity="0.9"/>
<circle cx="363.8" cy="1289.6" r="11.35" fill="#1B9E77" fill-opacity="0.9"/>
<circle cx="381.8" cy="1288.4" r="11.35" fill="#E7298A" fill-opacity="0.9"/>
<circle cx="398.5" cy="1291.3" r="11.35" fill="#E7298A" fill-opacity="0.9"/>
<circle cx="414.3" cy="1293.4" r="11.35" fill="#E7298A" fill-opacity="0.9"/>
<circle cx="429.3" cy="1296.9" r="11.35" fill="#E7298A" fill-opacity="0.9"/>
<circle cx="436.4" cy="1275.5" r="11.35" fill="#1B9E77" fill-opacity="0.9"/>
<circle cx="451.9" cy="1289.2" r="11.35" fill="#E7298A" fill-opacity="0.9"/>
<circle cx="469.6" cy="1281.0" r="11.35" fill="#1B9E77" fill-opacity="0.9"/>
<circle cx="478.2" cy="1296.3" r="11.35" fill="#1B9E77" fill-opacity="0.9"/>
<circle cx="507.0" cy="1276.8" r="11.35" fill="#1B9E77" fill-opacity="0.9"/>
<circle cx="523.0" cy="1286.4" r="11.35" fill="#E7298A" fill-opacity="0.9"/>
<circle cx="523.0" cy="1276.8" r="11.35" fill="#E7298A" fill-opacity="0.9"/>
<circle cx="547.2" cy="1281.3" r="11.35" fill="#1B9E77" fill-opacity="0.9"/>
<circle cx="586.8" cy="1287.3" r="11.35" fill="#E7298A" fill-opacity="0.9"/>
<circle cx="624.4" cy="1300.4" r="11.35" fill="#1B9E77" fill-opacity="0.9"/>
<circle cx="708.3" cy="1291.9" r="11.35" fill="#1B9E77" fill-opacity="0.9"/>
</g>
<path d="M152.15,749.9 H800.15" stroke="#000" stroke-width="2.2" fill="none"/>
<path d="M154.0,748.80 V1327.0 M152.15,1327.0 H800.15 M798.3,1327.0 V748.80" stroke="#000" stroke-width="3.7" fill="none" stroke-linecap="butt"/>
<path d="M183.6,1327.0 V1337.8 M341.5,1327.0 V1337.8 M499.4,1327.0 V1337.8 M657.3,1327.0 V1337.8 M154.0,1286 H143.2 M154.0,1162 H143.2 M154.0,1038 H143.2 M154.0,914 H143.2 M154.0,790 H143.2" stroke="#000" stroke-width="3.6" fill="none"/>
<text transform="translate(183.6,1376.0) scale(0.93,1)" font-size="39.4" text-anchor="middle">0.00</text>
<text transform="translate(341.5,1376.0) scale(0.93,1)" font-size="39.4" text-anchor="middle">0.25</text>
<text transform="translate(499.4,1376.0) scale(0.93,1)" font-size="39.4" text-anchor="middle">0.50</text>
<text transform="translate(657.3,1376.0) scale(0.93,1)" font-size="39.4" text-anchor="middle">0.75</text>
<text transform="translate(133.2,1301.2) scale(0.93,1)" font-size="39.4" text-anchor="end">0.00</text>
<text transform="translate(133.2,1177.2) scale(0.93,1)" font-size="39.4" text-anchor="end">0.25</text>
<text transform="translate(133.2,1053.2) scale(0.93,1)" font-size="39.4" text-anchor="end">0.50</text>
<text transform="translate(133.2,929.2) scale(0.93,1)" font-size="39.4" text-anchor="end">0.75</text>
<text transform="translate(133.2,805.2) scale(0.93,1)" font-size="39.4" text-anchor="end">1.00</text>
<text font-size="46" y="1443.8"><tspan x="279.5">Monotonic trend</tspan><tspan x="624.4">R</tspan><tspan x="655.5" y="1418.6" font-size="29.5">2</tspan></text>
<text transform="translate(39.8,1037.5) rotate(-90)" font-size="46" text-anchor="middle">Proportion chaotic</text>
<text transform="translate(0.3,792.0) scale(0.9,1)" font-size="60" font-weight="bold">c</text>
<g stroke="#000" stroke-width="2.1">
<circle cx="1057.6" cy="876.8" r="11.35" fill="#66A61E" fill-opacity="0.9"/>
<circle cx="1101.5" cy="918.0" r="11.35" fill="#66A61E" fill-opacity="0.9"/>
<circle cx="1046.0" cy="922.0" r="11.35" fill="#D95F02" fill-opacity="0.9"/>
<circle cx="1039.9" cy="921.2" r="11.35" fill="#7570B3" fill-opacity="0.9"/>
<circle cx="1053.6" cy="956.0" r="11.35" fill="#7570B3" fill-opacity="0.9"/>
<circle cx="1057.4" cy="946.7" r="11.35" fill="#E7298A" fill-opacity="0.9"/>
<circle cx="1063.6" cy="971.0" r="11.35" fill="#D95F02" fill-opacity="0.9"/>
<circle cx="1082.9" cy="951.7" r="11.35" fill="#1B9E77" fill-opacity="0.9"/>
<circle cx="1095.4" cy="952.3" r="11.35" fill="#1B9E77" fill-opacity="0.9"/>
<circle cx="1092.3" cy="938.0" r="11.35" fill="#E6AB02" fill-opacity="0.9"/>
<circle cx="1105.3" cy="955.4" r="11.35" fill="#1B9E77" fill-opacity="0.9"/>
<circle cx="1120.0" cy="945.0" r="11.35" fill="#E7298A" fill-opacity="0.9"/>
<circle cx="1133.0" cy="946.0" r="11.35" fill="#7570B3" fill-opacity="0.9"/>
<circle cx="1154.8" cy="940.3" r="11.35" fill="#E7298A" fill-opacity="0.9"/>
<circle cx="1112.0" cy="951.0" r="11.35" fill="#E7298A" fill-opacity="0.9"/>
<circle cx="1160.0" cy="946.0" r="11.35" fill="#E7298A" fill-opacity="0.9"/>
<circle cx="1179.8" cy="953.1" r="11.35" fill="#1B9E77" fill-opacity="0.9"/>
<circle cx="1192.0" cy="948.6" r="11.35" fill="#1B9E77" fill-opacity="0.9"/>
<circle cx="1213.1" cy="945.3" r="11.35" fill="#1B9E77" fill-opacity="0.9"/>
<circle cx="1232.0" cy="952.0" r="11.35" fill="#7570B3" fill-opacity="0.9"/>
<circle cx="1285.5" cy="936.8" r="11.35" fill="#7570B3" fill-opacity="0.9"/>
<circle cx="1282.8" cy="949.6" r="11.35" fill="#1B9E77" fill-opacity="0.9"/>
<circle cx="1384.8" cy="946.5" r="11.35" fill="#1B9E77" fill-opacity="0.9"/>
<circle cx="1430.8" cy="948.3" r="11.35" fill="#1B9E77" fill-opacity="0.9"/>
<circle cx="1038.5" cy="1053.5" r="11.35" fill="#E7298A" fill-opacity="0.9"/>
<circle cx="1037.9" cy="775.7" r="11.35" fill="#66A61E" fill-opacity="0.9"/>
<circle cx="1049.9" cy="784.0" r="11.35" fill="#66A61E" fill-opacity="0.9"/>
<circle cx="1039.4" cy="803.4" r="11.35" fill="#66A61E" fill-opacity="0.9"/>
<circle cx="1051.8" cy="822.0" r="11.35" fill="#E6AB02" fill-opacity="0.9"/>
<circle cx="1067.0" cy="837.5" r="11.35" fill="#66A61E" fill-opacity="0.9"/>
<circle cx="1072.8" cy="852.7" r="11.35" fill="#E7298A" fill-opacity="0.9"/>
<circle cx="1066.2" cy="877.7" r="11.35" fill="#66A61E" fill-opacity="0.9"/>
<circle cx="1037.7" cy="886.8" r="11.35" fill="#66A61E" fill-opacity="0.9"/>
<circle cx="1055.1" cy="880.1" r="11.35" fill="#E6AB02" fill-opacity="0.9"/>
<circle cx="1058.7" cy="899.5" r="11.35" fill="#E6AB02" fill-opacity="0.9"/>
<circle cx="1038.8" cy="901.2" r="11.35" fill="#E7298A" fill-opacity="0.9"/>
<circle cx="1105.4" cy="875.8" r="11.35" fill="#E6AB02" fill-opacity="0.9"/>
<circle cx="1131.5" cy="858.8" r="11.35" fill="#66A61E" fill-opacity="0.9"/>
<circle cx="1106.8" cy="912.6" r="11.35" fill="#E7298A" fill-opacity="0.9"/>
<circle cx="1045.5" cy="927.4" r="11.35" fill="#7570B3" fill-opacity="0.9"/>
<circle cx="1068.9" cy="927.1" r="11.35" fill="#E7298A" fill-opacity="0.9"/>
<circle cx="1038.7" cy="938.0" r="11.35" fill="#1B9E77" fill-opacity="0.9"/>
<circle cx="1068.0" cy="940.8" r="11.35" fill="#E7298A" fill-opacity="0.9"/>
<circle cx="1039.9" cy="964.7" r="11.35" fill="#1B9E77" fill-opacity="0.9"/>
<circle cx="1038.1" cy="951.0" r="11.35" fill="#E7298A" fill-opacity="0.9"/>
<circle cx="1059.5" cy="960.9" r="11.35" fill="#1B9E77" fill-opacity="0.9"/>
<circle cx="1083.8" cy="977.2" r="11.35" fill="#D95F02" fill-opacity="0.9"/>
<circle cx="1092.3" cy="941.4" r="11.35" fill="#1B9E77" fill-opacity="0.9"/>
<circle cx="1103.5" cy="945.5" r="11.35" fill="#E7298A" fill-opacity="0.9"/>
<circle cx="1123.4" cy="944.8" r="11.35" fill="#E7298A" fill-opacity="0.9"/>
<circle cx="1133.3" cy="940.0" r="11.35" fill="#7570B3" fill-opacity="0.9"/>
<circle cx="1147.0" cy="950.0" r="11.35" fill="#E7298A" fill-opacity="0.9"/>
<circle cx="1156.8" cy="958.1" r="11.35" fill="#1B9E77" fill-opacity="0.9"/>
<circle cx="1174.3" cy="982.1" r="11.35" fill="#E7298A" fill-opacity="0.9"/>
<circle cx="1203.3" cy="1000.2" r="11.35" fill="#66A61E" fill-opacity="0.9"/>
<circle cx="1183.2" cy="953.1" r="11.35" fill="#1B9E77" fill-opacity="0.9"/>
<circle cx="1205.3" cy="930.9" r="11.35" fill="#1B9E77" fill-opacity="0.9"/>
<circle cx="1196.5" cy="960.3" r="11.35" fill="#1B9E77" fill-opacity="0.9"/>
<circle cx="1214.8" cy="965.8" r="11.35" fill="#1B9E77" fill-opacity="0.9"/>
<circle cx="1214.2" cy="948.1" r="11.35" fill="#E7298A" fill-opacity="0.9"/>
<circle cx="1230.8" cy="948.6" r="11.35" fill="#E7298A" fill-opacity="0.9"/>
<circle cx="1247.5" cy="950.3" r="11.35" fill="#E7298A" fill-opacity="0.9"/>
<circle cx="1259.7" cy="945.3" r="11.35" fill="#E7298A" fill-opacity="0.9"/>
<circle cx="1276.2" cy="941.7" r="11.35" fill="#E7298A" fill-opacity="0.9"/>
<circle cx="1305.3" cy="939.0" r="11.35" fill="#1B9E77" fill-opacity="0.9"/>
<circle cx="1299.3" cy="950.7" r="11.35" fill="#E7298A" fill-opacity="0.9"/>
<circle cx="1327.0" cy="945.6" r="11.35" fill="#1B9E77" fill-opacity="0.9"/>
<circle cx="1317.3" cy="953.6" r="11.35" fill="#1B9E77" fill-opacity="0.9"/>
<circle cx="1351.3" cy="941.8" r="11.35" fill="#1B9E77" fill-opacity="0.9"/>
<circle cx="1369.4" cy="946.5" r="11.35" fill="#E7298A" fill-opacity="0.9"/>
<circle cx="1392.8" cy="952.7" r="11.35" fill="#1B9E77" fill-opacity="0.9"/>
<circle cx="1431.2" cy="941.4" r="11.35" fill="#E7298A" fill-opacity="0.9"/>
<circle cx="1467.7" cy="946.9" r="11.35" fill="#1B9E77" fill-opacity="0.9"/>
<circle cx="1491.5" cy="939.1" r="11.35" fill="#1B9E77" fill-opacity="0.9"/>
<circle cx="1513.1" cy="939.1" r="11.35" fill="#1B9E77" fill-opacity="0.9"/>
<circle cx="1548.7" cy="942.0" r="11.35" fill="#1B9E77" fill-opacity="0.9"/>
<circle cx="1581.4" cy="941.0" r="11.35" fill="#1B9E77" fill-opacity="0.9"/>
<circle cx="1608.6" cy="941.0" r="11.35" fill="#1B9E77" fill-opacity="0.9"/>
<circle cx="1041.9" cy="998.6" r="11.35" fill="#E7298A" fill-opacity="0.9"/>
<circle cx="1078.6" cy="1023.6" r="11.35" fill="#1B9E77" fill-opacity="0.9"/>
<circle cx="1070.3" cy="1034.0" r="11.35" fill="#D95F02" fill-opacity="0.9"/>
<circle cx="1039.9" cy="1053.5" r="11.35" fill="#E7298A" fill-opacity="0.9"/>
<circle cx="1055.6" cy="1076.4" r="11.35" fill="#D95F02" fill-opacity="0.9"/>
<circle cx="1058.6" cy="1222.9" r="11.35" fill="#D95F02" fill-opacity="0.9"/>
<circle cx="1048.6" cy="1300.2" r="11.35" fill="#D95F02" fill-opacity="0.9"/>
</g>
<line x1="1009.4" y1="941.5" x2="1636.7" y2="941.5" stroke="#000" stroke-width="3.7"/>
<path d="M1007.55,749.9 H1638.55" stroke="#000" stroke-width="2.2" fill="none"/>
<path d="M1009.4,748.80 V1326.9 M1007.55,1326.9 H1638.55 M1636.7,1326.9 V748.80" stroke="#000" stroke-width="3.7" fill="none" stroke-linecap="butt"/>
<path d="M1038.1,1326.9 V1337.8 M1191.7,1326.9 V1337.8 M1345.3,1326.9 V1337.8 M1498.9,1326.9 V1337.8 M1009.4,826.3 H998.5 M1009.4,941.5 H998.5 M1009.4,1056.8 H998.5 M1009.4,1172.1 H998.5 M1009.4,1287.4 H998.5" stroke="#000" stroke-width="3.6" fill="none"/>
<text transform="translate(1038.1,1375.9) scale(0.93,1)" font-size="39.4" text-anchor="middle">0.00</text>
<text transform="translate(1191.7,1375.9) scale(0.93,1)" font-size="39.4" text-anchor="middle">0.25</text>
<text transform="translate(1345.3,1375.9) scale(0.93,1)" font-size="39.4" text-anchor="middle">0.50</text>
<text transform="translate(1498.9,1375.9) scale(0.93,1)" font-size="39.4" text-anchor="middle">0.75</text>
<text transform="translate(988.6,841.5) scale(0.93,1)" font-size="39.4" text-anchor="end">0.5</text>
<text transform="translate(988.6,956.7) scale(0.93,1)" font-size="39.4" text-anchor="end">0.0</text>
<text transform="translate(988.6,1072.0) scale(0.93,1)" font-size="39.4" text-anchor="end">-0.5</text>
<text transform="translate(988.6,1187.3) scale(0.93,1)" font-size="39.4" text-anchor="end">-1.0</text>
<text transform="translate(988.6,1302.6) scale(0.93,1)" font-size="39.4" text-anchor="end">-1.5</text>
<text font-size="46" y="1443.7"><tspan x="1126.4">Monotonic trend</tspan><tspan x="1471.3">R</tspan><tspan x="1502.4" y="1418.5" font-size="29.5">2</tspan></text>
<g transform="translate(892.3,749.0) rotate(-90)">
<text x="-424.5" y="0" font-size="46">LE</text>
<text transform="translate(-355.0,0) scale(1.05,1)" font-size="60" y="0" font-family="Liberation Serif, serif" style="stroke:#fff;stroke-width:1.6px">(</text>
<text x="-336.3" y="0" font-size="46">month</text>
<text x="-208.5" y="-20.5" font-size="31">&#8722;</text>
<text x="-190.3" y="-24" font-size="31">1</text>
<text transform="translate(-172.5,0) scale(1.05,1)" font-size="60" y="0" font-family="Liberation Serif, serif" style="stroke:#fff;stroke-width:1.6px">)</text>
</g>
<text transform="translate(839.8,792.0) scale(0.9,1)" font-size="60" font-weight="bold">d</text>
<text transform="translate(1711.0,118.6) scale(1.005,1)" font-size="46.5">Taxonomic</text>
<text transform="translate(1711.0,168.5) scale(1.005,1)" font-size="46.5">Group</text>
<circle cx="1746.6" cy="230.2" r="11.3" fill="#1B9E77" fill-opacity="0.9" stroke="#000" stroke-width="1.6"/>
<text transform="translate(1805.0,244.5) scale(0.93,1)" font-size="39.4">Birds</text>
<circle cx="1746.6" cy="302.2" r="11.3" fill="#D95F02" fill-opacity="0.9" stroke="#000" stroke-width="1.6"/>
<text transform="translate(1805.0,316.5) scale(0.93,1)" font-size="39.4">Bony fishes</text>
<circle cx="1746.6" cy="374.2" r="11.3" fill="#7570B3" fill-opacity="0.9" stroke="#000" stroke-width="1.6"/>
<text transform="translate(1805.0,388.5) scale(0.93,1)" font-size="39.4">Insects</text>
<circle cx="1746.6" cy="446.2" r="11.3" fill="#E7298A" fill-opacity="0.9" stroke="#000" stroke-width="1.6"/>
<text transform="translate(1805.0,460.5) scale(0.93,1)" font-size="39.4">Mammals</text>
<circle cx="1746.6" cy="518.2" r="11.3" fill="#66A61E" fill-opacity="0.9" stroke="#000" stroke-width="1.6"/>
<text transform="translate(1805.0,532.5) scale(0.93,1)" font-size="39.4">Phytoplankton</text>
<circle cx="1746.6" cy="590.2" r="11.3" fill="#E6AB02" fill-opacity="0.9" stroke="#000" stroke-width="1.6"/>
<text transform="translate(1805.0,604.5) scale(0.93,1)" font-size="39.4">Zooplankton</text>
<text transform="translate(1711.0,865.6) scale(1.005,1)" font-size="46.5">Taxonomic</text>
<text transform="translate(1711.0,915.5) scale(1.005,1)" font-size="46.5">Group</text>
<circle cx="1746.6" cy="979.2" r="11.3" fill="#1B9E77" fill-opacity="0.9" stroke="#000" stroke-width="1.6"/>
<text transform="translate(1805.0,993.5) scale(0.93,1)" font-size="39.4">Birds</text>
<circle cx="1746.6" cy="1051.2" r="11.3" fill="#D95F02" fill-opacity="0.9" stroke="#000" stroke-width="1.6"/>
<text transform="translate(1805.0,1065.5) scale(0.93,1)" font-size="39.4">Bony fishes</text>
<circle cx="1746.6" cy="1123.2" r="11.3" fill="#7570B3" fill-opacity="0.9" stroke="#000" stroke-width="1.6"/>
<text transform="translate(1805.0,1137.5) scale(0.93,1)" font-size="39.4">Insects</text>
<circle cx="1746.6" cy="1195.2" r="11.3" fill="#E7298A" fill-opacity="0.9" stroke="#000" stroke-width="1.6"/>
<text transform="translate(1805.0,1209.5) scale(0.93,1)" font-size="39.4">Mammals</text>
<circle cx="1746.6" cy="1267.2" r="11.3" fill="#66A61E" fill-opacity="0.9" stroke="#000" stroke-width="1.6"/>
<text transform="translate(1805.0,1281.5) scale(0.93,1)" font-size="39.4">Phytoplankton</text>
<circle cx="1746.6" cy="1339.2" r="11.3" fill="#E6AB02" fill-opacity="0.9" stroke="#000" stroke-width="1.6"/>
<text transform="translate(1805.0,1353.5) scale(0.93,1)" font-size="39.4">Zooplankton</text>
</svg>
</body></html>
